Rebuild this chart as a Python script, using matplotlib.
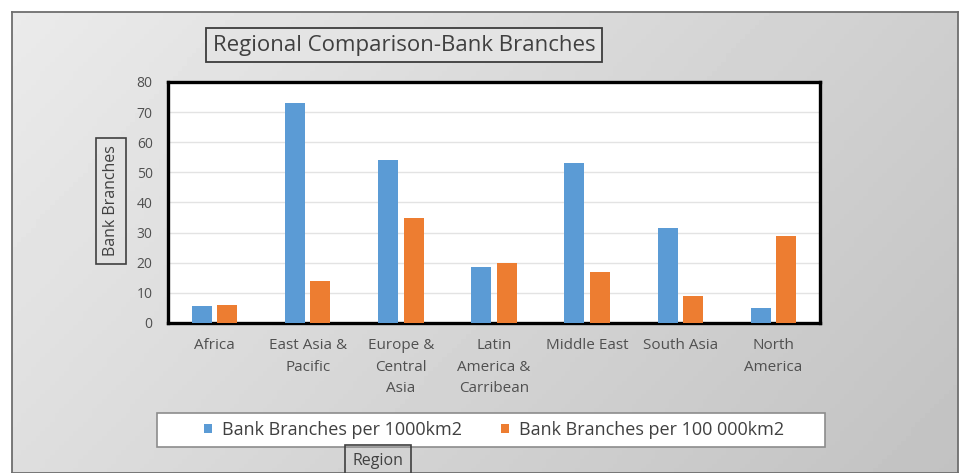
import numpy as np
import matplotlib.pyplot as plt
from matplotlib.patches import Rectangle

plt.rcParams['font.family'] = ['Open Sans', 'DejaVu Sans']

regions = ['Africa', 'East Asia &\nPacific', 'Europe &\nCentral\nAsia',
           'Latin\nAmerica &\nCarribean', 'Middle East', 'South Asia',
           'North\nAmerica']
per_1000km2 = [5.5, 73, 54, 18.5, 53, 31.5, 5]
per_100000km2 = [6, 14, 35, 20, 17, 9, 29]
yticks = [0, 10, 20, 30, 40, 50, 60, 70, 80]

W, H = 960, 473
fig = plt.figure(figsize=(W / 100, H / 100), dpi=100)
fig.patch.set_facecolor('white')

def fx(px):
    return px / W

def fy(py):
    return 1 - py / H

# grey gradient chart area
bg = fig.add_axes([fx(12), 0, fx(946), fy(12)], zorder=-5)
gx = np.linspace(0, 1, 200)
gy = np.linspace(0, 1, 100)
GX, GY = np.meshgrid(gx, gy)
shade = 0.92 - 0.11 * GX - 0.05 * GY
bg.imshow(shade, cmap='gray', vmin=0, vmax=1, aspect='auto',
          extent=[0, 1, 0, 1], origin='upper')
bg.set_xticks([])
bg.set_yticks([])
for s in bg.spines.values():
    s.set_color('#6e6e6e')
    s.set_linewidth(1.3)

ax = fig.add_axes([fx(168), fy(323), fx(820) - fx(168), fy(82) - fy(323)])
ax.set_facecolor('white')

x = np.arange(len(regions))
w = 0.215
ax.bar(x - 0.137, per_1000km2, w, color='#5b9bd5', zorder=3,
       label='Bank Branches per 1000km2')
ax.bar(x + 0.137, per_100000km2, w, color='#ed7d31', zorder=3,
       label='Bank Branches per 100 000km2')

ax.set_xlim(-0.5, len(regions) - 0.5)
ax.set_ylim(0, 80)
ax.set_yticks(yticks)
ax.set_xticks(x)
ax.set_xticklabels(regions, linespacing=1.6, va='top', fontsize=11)
ax.grid(axis='y', color='#e3e3e3', linewidth=1, zorder=0)
ax.tick_params(axis='both', length=0, labelsize=10, colors='#505050')
ax.tick_params(axis='y', pad=11)
ax.tick_params(axis='x', pad=11, labelsize=11)
for s in ax.spines.values():
    s.set_color('black')
    s.set_linewidth(2.4)

# title and axis labels in boxes
fig.text(fx(404), fy(45), 'Regional Comparison-Bank Branches', ha='center',
         va='center', fontsize=16, color='#404040',
         bbox=dict(boxstyle='square,pad=0.3', facecolor='#e4e4e4',
                   edgecolor='#3c3c3c', linewidth=1.3))
fig.text(fx(111), fy(201), 'Bank Branches', rotation=90, ha='center',
         va='center', fontsize=11.5, color='#404040',
         bbox=dict(boxstyle='square,pad=0.45', facecolor='none',
                   edgecolor='#404040', linewidth=1.2))
fig.text(fx(378), fy(461), 'Region', ha='center', va='center',
         fontsize=11.5, color='#404040',
         bbox=dict(boxstyle='square,pad=0.5', facecolor='none',
                   edgecolor='#404040', linewidth=1.2))

# legend box
fig.patches.append(Rectangle((fx(157), fy(447)), fx(668), fy(413) - fy(447),
                             transform=fig.transFigure, facecolor='white',
                             edgecolor='#8c8c8c', linewidth=1.2, zorder=1))
leg = fig.legend(loc='center', bbox_to_anchor=(fx(494), fy(430)), ncol=2,
                 frameon=False, fontsize=13, handlelength=0.45,
                 handleheight=0.45, handletextpad=0.55, columnspacing=2.2)
for t in leg.get_texts():
    t.set_color('#404040')
leg.set_zorder(2)

fig.savefig('out.png', dpi=100)
